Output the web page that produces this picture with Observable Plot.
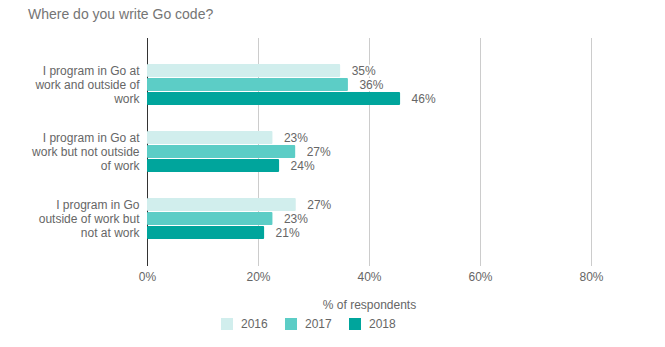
<!DOCTYPE html>
<html><head><meta charset="utf-8">
<script src="https://cdn.jsdelivr.net/npm/d3@7"></script>
<script src="https://cdn.jsdelivr.net/npm/@observablehq/plot@0.6"></script>
<style>
body{margin:0;background:#fff;font-family:"Liberation Sans",Arial,sans-serif;}
#wrap{position:relative;width:665px;height:347px;overflow:hidden;}
#title{position:absolute;left:28px;top:6px;font-size:14px;color:#757575;white-space:nowrap;}
#back,#front{position:absolute;left:0;top:0;}
#legend{position:absolute;left:221px;top:317px;display:flex;font-size:12px;color:#666;}
#legend .item{display:flex;align-items:center;width:64px;}
#legend .sw{width:12px;height:12px;margin-right:8px;flex:none;}
</style>
</head><body>
<div id="wrap">
  <div id="back"></div>
  <div id="front"></div>
  <div id="title">Where do you write Go code?</div>
  <div id="legend"></div>
</div>
<script>
const categories = [
  "I program in Go at work and outside of work",
  "I program in Go at work but not outside of work",
  "I program in Go outside of work but not at work"
];
const categoryLabels = [
  "I program in Go at\nwork and outside of\nwork",
  "I program in Go at\nwork but not outside\nof work",
  "I program in Go\noutside of work but\nnot at work"
];
const years = ["2016", "2017", "2018"];
const values2016 = [34.8, 22.6, 26.8];
const values2017 = [36.2, 26.7, 22.6];
const values2018 = [45.6, 23.8, 21.1];
const colors = ["#d1eeed", "#5ccdc6", "#00a59c"];
const xTicks = [0, 20, 40, 60, 80];

const series = [values2016, values2017, values2018];
const data = categories.flatMap((c, i) => years.map((y, j) => ({category: c, year: y, value: series[j][i]})));

const common = {
  width: 665, height: 316,
  marginLeft: 147, marginRight: 74, marginTop: 38, marginBottom: 50,
  style: {fontFamily: "Liberation Sans, Arial, sans-serif", fontSize: "12px", color: "#666", background: "transparent"}
};

// background: grid, zero line, x axis
const back = Plot.plot({
  ...common,
  x: {domain: [0, 80]},
  marks: [
    Plot.gridX(xTicks.filter(d => d > 0), {stroke: "#ccc", strokeOpacity: 1}),
    Plot.ruleX([0], {stroke: "#333"}),
    Plot.axisX(xTicks, {tickSize: 0, tickPadding: 6, tickFormat: d => d + "%", label: "% of respondents", labelArrow: "none", labelAnchor: "center", labelOffset: 42, fill: "#666"})
  ]
});
document.getElementById("back").appendChild(back);

// foreground: grouped bars via facets
const front = Plot.plot({
  ...common,
  x: {domain: [0, 80], axis: null},
  y: {domain: years, paddingInner: 0.067, paddingOuter: 0, axis: null},
  fy: {domain: categories, paddingInner: 0.353, paddingOuter: 0.353, axis: null},
  color: {domain: years, range: colors},
  marks: [
    Plot.barX(data, {x: "value", y: "year", fy: "category", fill: "year", rx: 1}),
    Plot.text(data, {x: "value", y: "year", fy: "category", text: d => Math.round(d.value) + "%", textAnchor: "start", dx: 11, fill: "#666", stroke: "white", strokeWidth: 4}),
    Plot.axisFy({anchor: "left", tickSize: 0, tickPadding: 8, tickFormat: d => categoryLabels[categories.indexOf(d)], label: null, lineHeight: 14 / 12, fill: "#666"})
  ]
});
document.getElementById("front").appendChild(front);

const legend = document.getElementById("legend");
years.forEach((y, i) => {
  const it = document.createElement("div");
  it.className = "item";
  it.innerHTML = `<span class="sw" style="background:${colors[i]}"></span><span>${y}</span>`;
  legend.appendChild(it);
});
</script>
</body></html>
